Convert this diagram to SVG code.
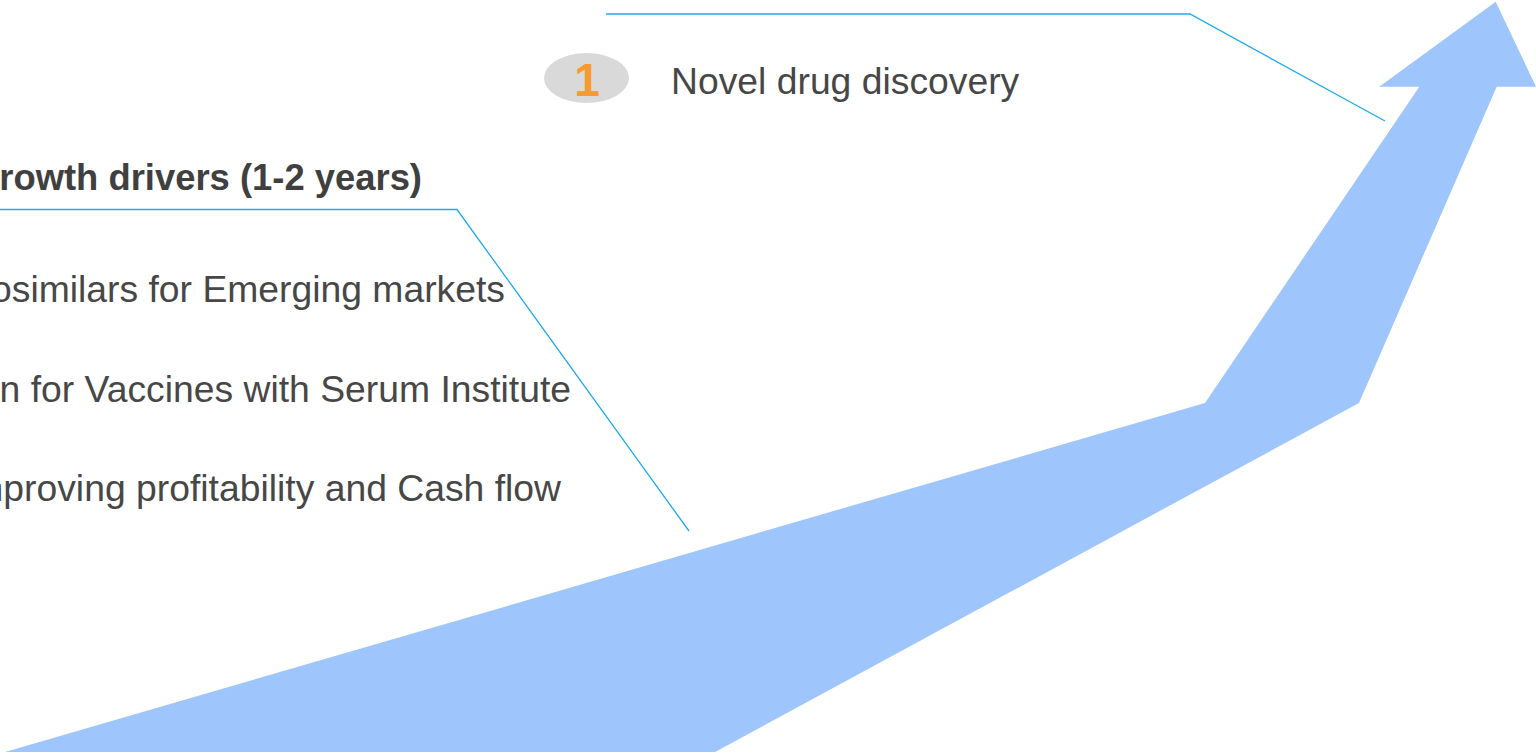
<svg xmlns="http://www.w3.org/2000/svg" width="1536" height="753" viewBox="0 0 1536 753">
<style>
.t{font-family:"Liberation Sans",Arial,sans-serif;font-size:37.3px;fill:#474747}
.b{font-weight:bold;font-size:36.4px;fill:#404040}
.c{fill:none;stroke:#1eaaf0;stroke-width:1.3}
</style>
<rect width="1536" height="753" fill="#ffffff"/>
<g id="arrow">
<polygon points="1495.7,1.7 1536,86.7 1496.7,86.7 1359,403 715,752 5,752 1205,403 1419.3,86.7 1379.3,86.7" fill="#9fc5fd"/>
</g>
<g id="connectors">
<polyline class="c" points="606,14 1190,14 1385,121"/>
<polyline class="c" points="0,209.5 457,209.5 689,531"/>
</g>
<g id="node-1">
<ellipse cx="586.5" cy="78" rx="42.5" ry="25" fill="#d9d9d9"/>
<text x="587" y="96" text-anchor="middle" style="font-family:'Liberation Sans',Arial,sans-serif;font-size:46px;font-weight:bold;fill:#f79a32">1</text>
<text class="t" x="671" y="94">Novel drug discovery</text>
</g>
<g id="node-2">
<text class="t b" x="422" y="190" text-anchor="end">rowth drivers (1-2 years)</text>
<text class="t" x="505" y="302" text-anchor="end">osimilars for Emerging markets</text>
<text class="t" x="571" y="402" text-anchor="end">n for Vaccines with Serum Institute</text>
<text class="t" x="561" y="501" text-anchor="end">nproving profitability and Cash flow</text>
</g>
</svg>
